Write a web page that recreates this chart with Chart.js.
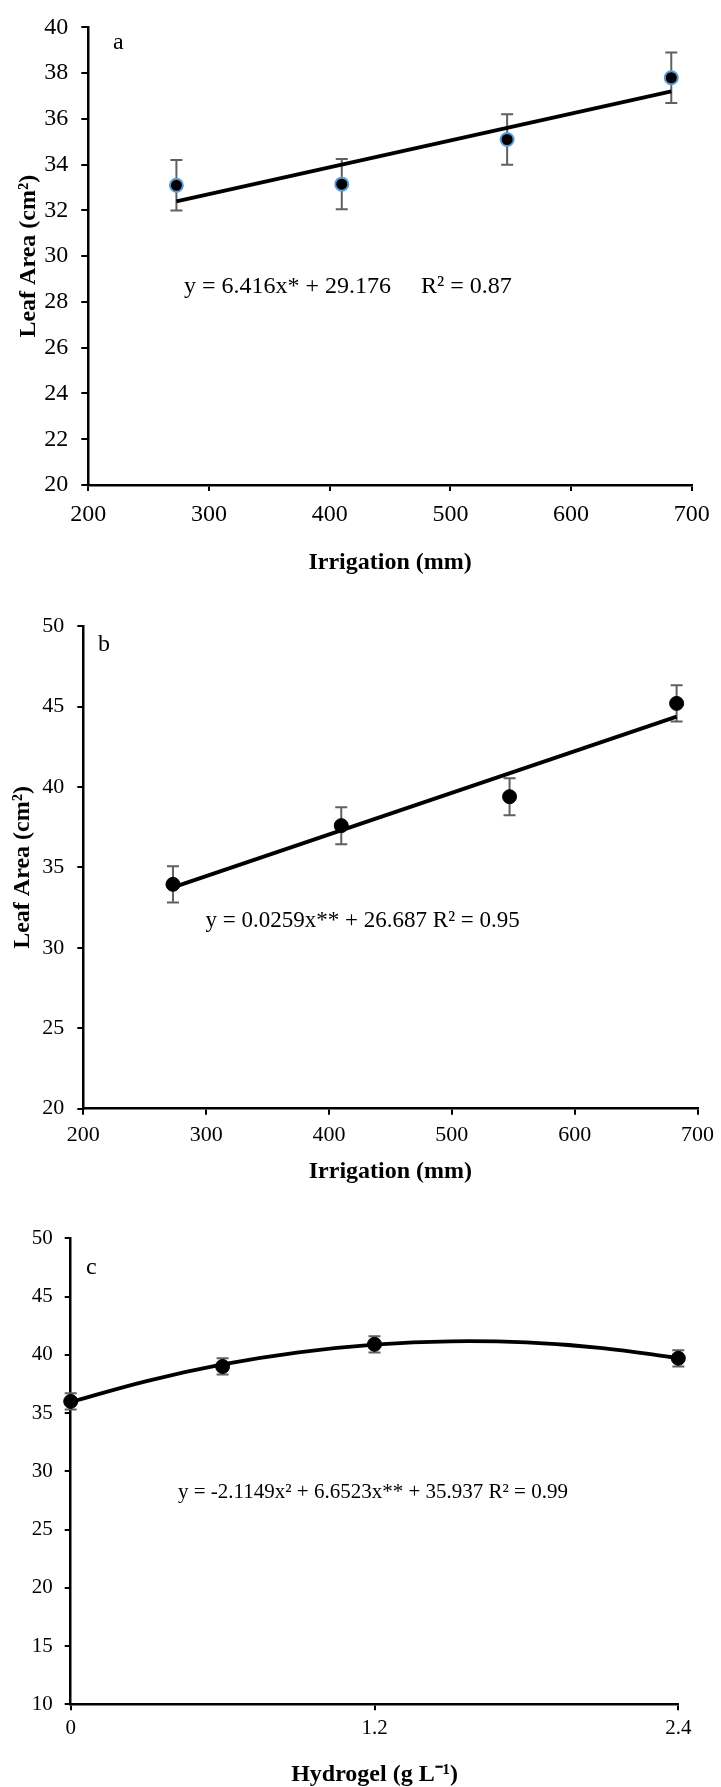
<!DOCTYPE html>
<html><head><meta charset="utf-8">
<script src="https://cdn.jsdelivr.net/npm/chart.js@4.4.1/dist/chart.umd.min.js"></script>
<style>
html,body{margin:0;padding:0;background:#fff;width:721px;height:1787px;overflow:hidden}
.box{position:absolute;left:0;width:721px}
canvas{display:block}
</style></head><body>
<div class="box" style="top:0;height:600px"><canvas id="ca" width="721" height="600"></canvas></div>
<div class="box" style="top:600px;height:590px"><canvas id="cb" width="721" height="590"></canvas></div>
<div class="box" style="top:1190px;height:597px"><canvas id="cc" width="721" height="597"></canvas></div>
<script>
// ---- data ----
const irrigation = [273, 410, 547, 683];
const leafAreaA = [33.1, 33.15, 35.1, 37.8];
const errorA = [1.1, 1.1, 1.1, 1.1];
const trendXA = [273, 683];
const trendYA = [32.4, 37.2];

const leafAreaB = [33.95, 37.6, 39.4, 45.2];
const errorB = [1.13, 1.15, 1.15, 1.13];
const trendXB = [273, 683];
const trendYB = [33.76, 44.38];

const hydrogel = [0, 0.6, 1.2, 2.4];
const leafAreaC = [36.0, 39.0, 40.9, 39.7];
const errorC = [0.7, 0.7, 0.7, 0.7];
const trendXC = [0, 0.3, 0.6, 0.9, 1.2, 1.5, 1.8, 2.1, 2.4];
const trendYC = [35.94, 37.74, 39.17, 40.21, 40.87, 41.16, 41.06, 40.58, 39.72];

const xTicksIrr = [200, 300, 400, 500, 600, 700];
const yTicksA = [20, 22, 24, 26, 28, 30, 32, 34, 36, 38, 40];
const yTicksB = [20, 25, 30, 35, 40, 45, 50];
const xTicksC = [0, 1.2, 2.4];
const yTicksC = [10, 15, 20, 25, 30, 35, 40, 45, 50];

const FONT = "'Liberation Serif', 'Times New Roman', serif";
Chart.defaults.font.family = FONT;
Chart.defaults.color = '#000';

const pts = (xs, ys) => xs.map((x, i) => ({x, y: ys[i]}));

const errorBars = {
  id: 'errorBars',
  beforeDatasetsDraw(chart, args, opts) {
    const {ctx} = chart;
    const xs = chart.scales.x, ys = chart.scales.y;
    const ds = chart.data.datasets[0];
    ctx.save();
    ctx.strokeStyle = '#606060';
    ctx.lineWidth = 2;
    ds.data.forEach((p, i) => {
      const e = opts.errors[i];
      const px = xs.getPixelForValue(p.x);
      const t = ys.getPixelForValue(p.y + e);
      const b = ys.getPixelForValue(p.y - e);
      ctx.beginPath();
      ctx.moveTo(px, t); ctx.lineTo(px, b);
      ctx.moveTo(px - 6, t); ctx.lineTo(px + 6, t);
      ctx.moveTo(px - 6, b); ctx.lineTo(px + 6, b);
      ctx.stroke();
    });
    ctx.restore();
  }
};

const panelText = {
  id: 'panelText',
  afterDraw(chart, args, opts) {
    const {ctx} = chart;
    ctx.save();
    ctx.fillStyle = '#000';
    ctx.textBaseline = 'middle';
    ctx.textAlign = 'left';
    (opts.items || []).forEach(it => {
      ctx.font = `${it.weight || 'normal'} ${it.size}px ${FONT}`;
      ctx.fillText(it.text, it.x, it.y);
    });
    ctx.restore();
  }
};

function axis(cfg) {
  return {
    type: 'linear',
    position: cfg.position,
    min: cfg.min, max: cfg.max,
    afterBuildTicks: s => { s.ticks = cfg.ticks.map(v => ({value: v})); },
    afterFit: s => { if (cfg.position === 'left') s.width = cfg.size; else s.height = cfg.size; },
    grid: {drawOnChartArea: false, drawTicks: true, tickLength: cfg.tickLength, color: '#000', lineWidth: 2},
    border: {display: true, color: '#000', width: 2.5},
    ticks: {font: {size: cfg.fontSize, family: FONT}, color: '#000', padding: cfg.pad, maxRotation: 0, autoSkip: false,
            callback: v => String(v)},
    title: {display: !!cfg.title, text: cfg.title || '', color: '#000',
            font: {size: 24, weight: 'bold', family: FONT, lineHeight: cfg.titleLH || 1.2},
            padding: cfg.titlePad || 0}
  };
}

function makeChart(id, c) {
  return new Chart(document.getElementById(id), {
    type: 'scatter',
    data: {
      datasets: [
        {data: pts(c.x, c.y), backgroundColor: '#000', borderColor: c.pointBorder, borderWidth: c.pointBW,
         pointRadius: c.r, pointHoverRadius: c.r, order: 1, clip: false},
        {type: 'line', data: pts(c.tx, c.ty), borderColor: '#000', borderWidth: 3.8, pointRadius: 0,
         fill: false, tension: c.tension, order: 2, clip: false}
      ]
    },
    options: {
      responsive: false, animation: false, devicePixelRatio: 1,
      layout: {padding: c.padding},
      plugins: {legend: {display: false}, tooltip: {enabled: false},
                errorBars: {errors: c.err}, panelText: {items: c.text}},
      scales: {x: axis(c.xAxis), y: axis(c.yAxis)}
    },
    plugins: [errorBars, panelText]
  });
}

makeChart('ca', {
  x: irrigation, y: leafAreaA, err: errorA, tx: trendXA, ty: trendYA, tension: 0,
  pointBorder: '#5B9BD5', pointBW: 2, r: 6.5,
  padding: {left: 0, top: 18, right: 29.2, bottom: 0},
  xAxis: {position: 'bottom', min: 200, max: 700, ticks: xTicksIrr, size: 115, tickLength: 6, fontSize: 24, pad: 9,
          title: 'Irrigation (mm)', titlePad: {top: 0, bottom: 23}},
  yAxis: {position: 'left', min: 20, max: 40, ticks: yTicksA, size: 88.3, tickLength: 7, fontSize: 24, pad: 13,
          title: 'Leaf Area (cm²)', titlePad: {top: 14.6, bottom: 0}},
  text: [
    {text: 'a', x: 113, y: 43, size: 24},
    {text: 'y = 6.416x* + 29.176', x: 184, y: 286.5, size: 24},
    {text: 'R² = 0.87', x: 421, y: 286.5, size: 24}
  ]
});

makeChart('cb', {
  x: irrigation, y: leafAreaB, err: errorB, tx: trendXB, ty: trendYB, tension: 0,
  pointBorder: '#000', pointBW: 1, r: 7,
  padding: {left: 0, top: 20, right: 15.7, bottom: 0},
  xAxis: {position: 'bottom', min: 200, max: 700, ticks: xTicksIrr, size: 81.3, tickLength: 6, fontSize: 22, pad: 7,
          title: 'Irrigation (mm)', titlePad: {top: 0, bottom: 3.6}},
  yAxis: {position: 'left', min: 20, max: 50, ticks: yTicksB, size: 83.3, tickLength: 6, fontSize: 22, pad: 13,
          title: 'Leaf Area (cm²)', titlePad: {top: 8.6, bottom: 0}},
  text: [
    {text: 'b', x: 98, y: 45, size: 24},
    {text: 'y = 0.0259x** + 26.687 R² = 0.95', x: 205.6, y: 320.5, size: 23}
  ]
});

makeChart('cc', {
  x: hydrogel, y: leafAreaC, err: errorC, tx: trendXC, ty: trendYC, tension: 0.4,
  pointBorder: '#000', pointBW: 1, r: 7,
  padding: {left: 0, top: 48.3, right: 42.7, bottom: 0},
  xAxis: {position: 'bottom', min: 0, max: 2.4, ticks: xTicksC, size: 82.7, tickLength: 6, fontSize: 21, pad: 6,
          title: 'Hydrogel (g L⁻¹)', titlePad: {top: 0, bottom: 0}, titleLH: 1},
  yAxis: {position: 'left', min: 10, max: 50, ticks: yTicksC, size: 70.7, tickLength: 6, fontSize: 21, pad: 12},
  text: [
    {text: 'c', x: 86, y: 78, size: 24},
    {text: 'y = -2.1149x² + 6.6523x** + 35.937 R² = 0.99', x: 178, y: 302.8, size: 21}
  ]
});
</script>
</body></html>
